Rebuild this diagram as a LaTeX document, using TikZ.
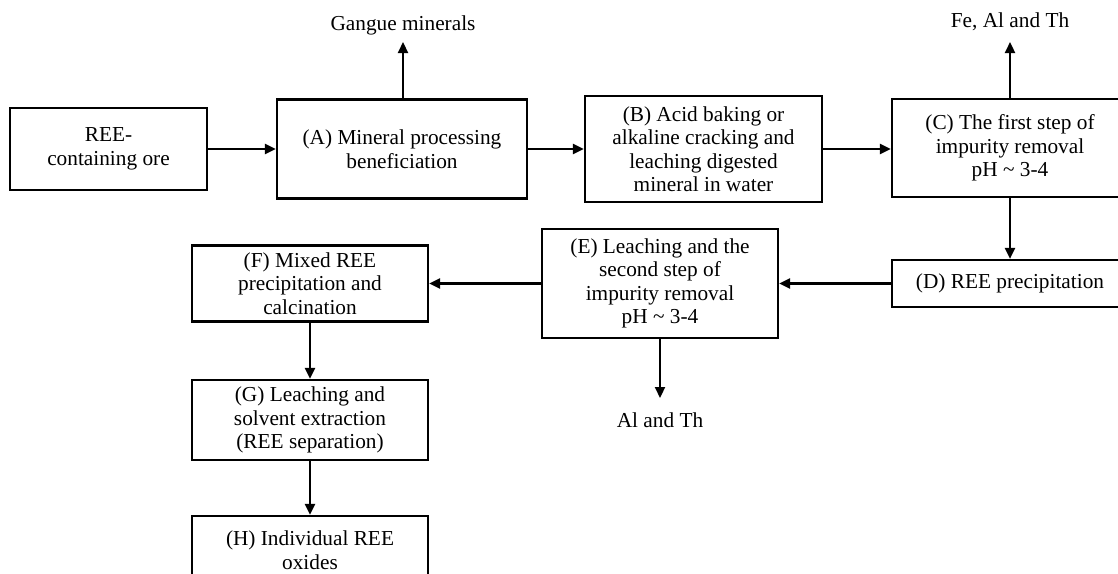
\documentclass[tikz,border=0pt]{standalone}
\usepackage{fontspec}
\setmainfont{Liberation Serif}
\usetikzlibrary{arrows.meta}
\begin{document}
\begin{tikzpicture}[x=1pt,y=-1pt,
  procbox/.style={draw=black,line width=2.2pt,align=center,inner sep=0pt,
    font=\fontsize{21.3}{23.5}\selectfont},
  plain/.style={inner sep=0pt,align=center,font=\fontsize{21.3}{23.5}\selectfont},
  flow/.style={line width=2.2pt,-{Triangle[length=11pt,width=10pt]}}]
\useasboundingbox (0,0) rectangle (1118,573);
\clip (0,0) rectangle (1118,573);
\fill[white] (0,0) rectangle (1118,573);
\node[procbox,minimum width=197pt,minimum height=82pt] (ore) at (108.5,149) {REE-\\containing ore};
\node[procbox,minimum width=250pt,minimum height=99pt] (A) at (402,149) {(A) Mineral processing\\beneficiation};
\node[procbox,minimum width=237pt,minimum height=106pt] (B) at (703.5,149) {(B) Acid baking or\\alkaline cracking and\\leaching digested\\mineral in water};
\node[procbox,minimum width=236pt,minimum height=98pt] (C) at (1010,148) {(C) The first step of\\impurity removal\\pH \textasciitilde{} 3-4};
\node[procbox,minimum width=236pt,minimum height=47pt] (D) at (1010,283.5) {(D) REE precipitation};
\node[procbox,minimum width=236pt,minimum height=109pt] (E) at (660,283.5) {(E) Leaching and the\\second step of\\impurity removal\\pH \textasciitilde{} 3-4};
\node[procbox,minimum width=236pt,minimum height=76pt] (F) at (310,283.5) {(F) Mixed REE\\precipitation and\\calcination};
\node[procbox,minimum width=236pt,minimum height=80pt] (G) at (310,420) {(G) Leaching and\\solvent extraction\\(REE separation)};
\node[procbox,minimum width=236pt,minimum height=68pt] (H) at (310,550) {(H) Individual REE\\oxides};
\node[plain] (gangue) at (403,25) {Gangue minerals};
\node[plain] (feal) at (1010,22) {Fe, Al and Th};
\node[plain] (alth) at (660,420) {Al and Th};
\coordinate (gtip) at (403,42);
\coordinate (ftip) at (1010,42);
\coordinate (atip) at (660,398);
\draw[flow] (ore) -- (A);
\draw[flow] (A) -- (B);
\draw[flow] (B) -- (B -| C.west);
\draw[flow] (A.north -| gtip) -- (gtip);
\draw[flow] (C.north -| ftip) -- (ftip);
\draw[flow] (C.south -| D) -- (D.north);
\draw[flow] (D) -- (E);
\draw[flow] (E) -- (F);
\draw[flow] (E.south) -- (atip);
\draw[flow] (F) -- (G);
\draw[flow] (G) -- (H);
\end{tikzpicture}
\end{document}
